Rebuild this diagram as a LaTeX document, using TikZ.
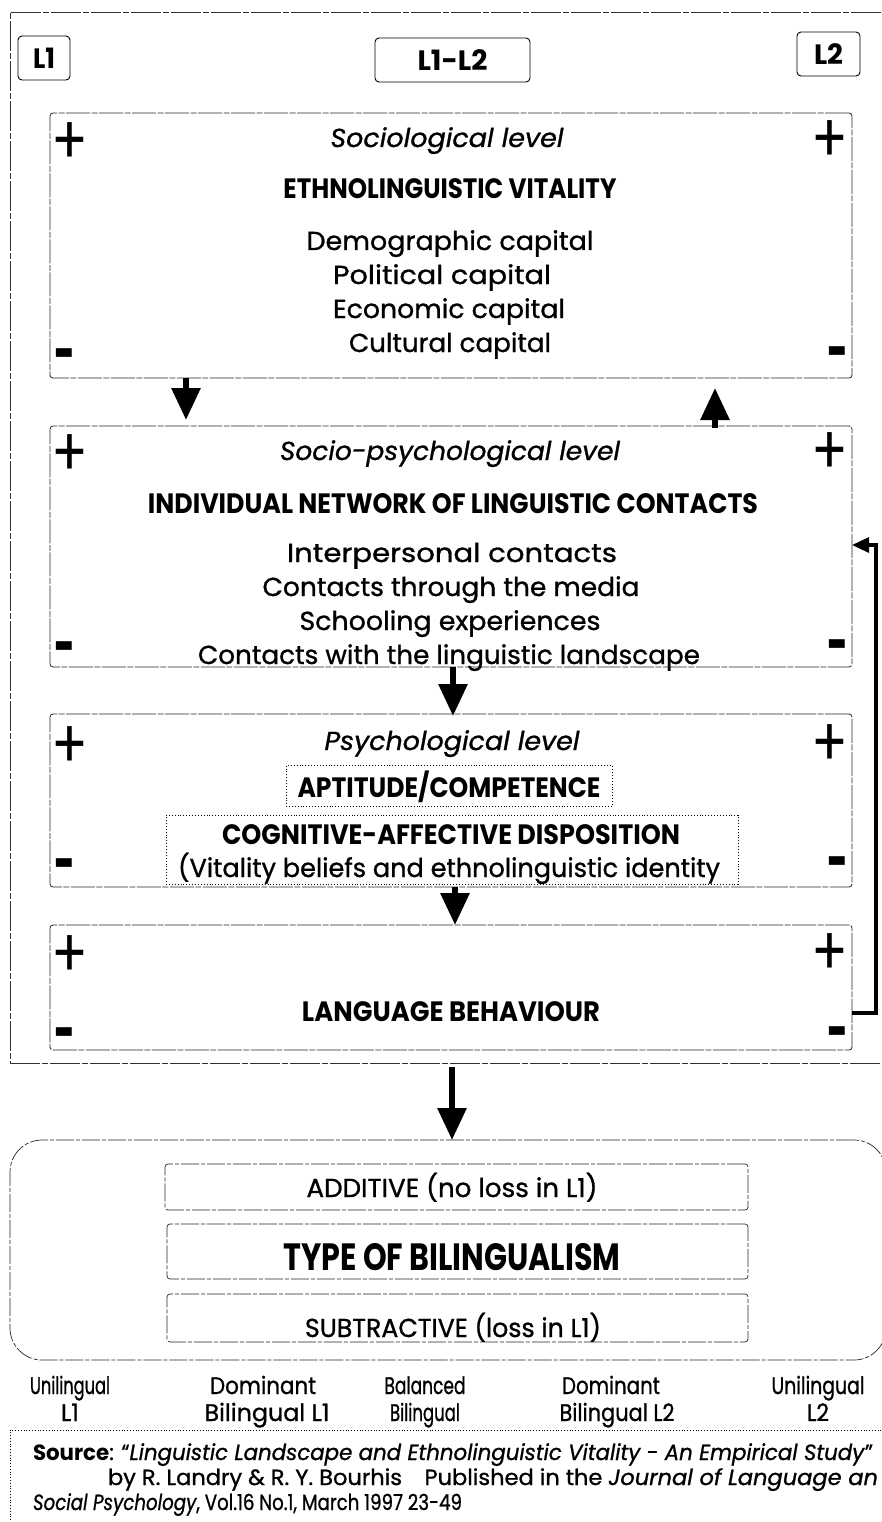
\documentclass[tikz,border=0pt]{standalone}
\usepackage{fontspec}
\setmainfont{Poppins}[UprightFeatures={FakeBold=1}, ItalicFeatures={FakeBold=1}]
\newfontfamily\plainf{Poppins}
\usepackage{graphicx}
\usetikzlibrary{arrows.meta}
\newcommand\tw[2]{\resizebox{#1pt}{\height}{#2}}
\tikzset{
  every node/.style={inner sep=0pt, outer sep=0pt},
  lvlbox/.style={draw=black!85, line width=0.8pt, dash pattern=on 24pt off 1.5pt on 6pt off 1.5pt, rounded corners=3pt, minimum width=802pt, anchor=north west},
  labbox/.style={draw, line width=0.9pt, rounded corners=4pt},
  dotbox/.style={draw, line width=0.9pt, dotted},
  bilbox/.style={draw=black!85, line width=0.7pt, dash pattern=on 18pt off 2pt on 4pt off 2pt, rounded corners=3pt},
  body/.style={font=\fontsize{26}{30}\selectfont, anchor=base},
  hd/.style={font=\fontsize{26}{30}\selectfont\itshape, anchor=base},
  caps/.style={font=\fontsize{28}{32}\selectfont\bfseries, anchor=base},
  small/.style={font=\fontsize{24}{26}\selectfont, anchor=base},
  src/.style={font=\fontsize{22}{24}\selectfont, anchor=base west},
  pl/.style={font=\plainf\fontsize{54}{54}\selectfont},
  mi/.style={font=\fontsize{36}{36}\selectfont\bfseries},
  bigarrow/.style={line width=6pt, -{Triangle[length=32pt,width=28pt]}},
  fbarrow/.style={line width=3.2pt, -{Triangle[length=17pt,width=15pt]}},
}
\newcommand\plus{\scalebox{1}[1.25]{+}}
\newcommand\minus{\scalebox{1}[1.7]{-}}
\begin{document}
\begin{tikzpicture}[x=1pt,y=-1pt]
\useasboundingbox (0,0) rectangle (882,1522);
\fill[white] (0,0) rectangle (882,1522);
\clip (0,0) rectangle (882,1522);

% outer frame
\node[draw=black!80, line width=0.7pt, dash pattern=on 30pt off 2pt on 6pt off 2pt, minimum width=890pt, minimum height=1051pt, anchor=north west] (outer) at (10,12) {};

% L labels
\node[labbox, minimum width=52pt, minimum height=44pt] (l1) at (44,58) {\fontsize{28}{30}\selectfont\bfseries\tw{22}{L1}};
\node[labbox, minimum width=155pt, minimum height=44pt] (l12) at (452.5,60) {\fontsize{28}{30}\selectfont\bfseries\tw{70}{L1-L2}};
\node[labbox, minimum width=63pt, minimum height=44pt] (l2) at (828.5,54) {\fontsize{28}{30}\selectfont\bfseries\tw{29}{L2}};

% Sociological level
\node[lvlbox, minimum height=265pt] (soc) at (50,113) {};
\node[hd] (soct) at (447,147) {\tw{233}{Sociological level}};
\node[caps] (socc) at (450,199) {\tw{333}{ETHNOLINGUISTIC VITALITY}};
\node[body] (s1) at (450,250) {\tw{287}{Demographic capital}};
\node[body] (s2) at (442,284) {\tw{218}{Political capital}};
\node[body] (s3) at (449,318) {\tw{232}{Economic capital}};
\node[body] (s4) at (450,352) {\tw{202}{Cultural capital}};
\node[pl] (socp1) at (70,144) {\plus};
\node[pl] (socp2) at (830,142) {\plus};
\node[mi] (socm1) at (65,362) {\minus};
\node[mi] (socm2) at (838,360) {\minus};

% Socio-psychological level
\node[lvlbox, minimum height=241pt] (sp) at (50,426) {};
\node[hd] (spt) at (450,460) {\tw{340}{Socio-psychological level}};
\node[caps] (spc) at (453,513) {\tw{610}{INDIVIDUAL NETWORK OF LINGUISTIC CONTACTS}};
\node[body] (p1) at (452,562) {\tw{330}{Interpersonal contacts}};
\node[body] (p2) at (451,596) {\tw{377}{Contacts through the media}};
\node[body] (p3) at (450,630) {\tw{301}{Schooling experiences}};
\node[body] (p4) at (449,664) {\tw{502}{Contacts with the linguistic landscape}};
\node[pl] (spp1) at (70,456) {\plus};
\node[pl] (spp2) at (830,454) {\plus};
\node[mi] (spm1) at (65,655) {\minus};
\node[mi] (spm2) at (838,653) {\minus};

% Psychological level
\node[lvlbox, minimum height=173pt] (psy) at (50,714) {};
\node[hd] (psyt) at (452,750) {\tw{255}{Psychological level}};
\node[dotbox, minimum width=326pt, minimum height=41pt] (apt) at (449,786) {};
\node[caps] (aptt) at (449,797) {\tw{303}{APTITUDE/COMPETENCE}};
\node[dotbox, minimum width=572pt, minimum height=69pt] (cog) at (452,849.5) {};
\node[caps] (cogt) at (451,844) {\tw{458}{COGNITIVE-AFFECTIVE DISPOSITION}};
\node[body] (cogs) at (449,877) {\tw{542}{(Vitality beliefs and ethnolinguistic identity}};
\node[pl] (psyp1) at (70,748) {\plus};
\node[pl] (psyp2) at (830,746) {\plus};
\node[mi] (psym1) at (65,872) {\minus};
\node[mi] (psym2) at (838,870) {\minus};

% Language behaviour
\node[lvlbox, minimum height=125pt] (beh) at (50,925) {};
\node[caps] (beht) at (451,1021) {\tw{298}{LANGUAGE BEHAVIOUR}};
\node[pl] (behp1) at (70,957) {\plus};
\node[pl] (behp2) at (830,955) {\plus};
\node[mi] (behm1) at (65,1041) {\minus};
\node[mi] (behm2) at (838,1040) {\minus};

% Type of bilingualism
\node[bilbox, rounded corners=32pt, minimum width=876pt, minimum height=220pt, anchor=north west] (bil) at (10,1140) {};
\node[bilbox, minimum width=583pt, minimum height=46pt] (add) at (456.5,1187) {};
\node[body] (addt) at (452,1197) {\tw{291}{ADDITIVE (no loss in L1)}};
\node[bilbox, minimum width=581pt, minimum height=55pt] (typ) at (457.5,1251.5) {};
\node[font=\fontsize{38}{40}\selectfont\bfseries, anchor=base] (typt) at (452,1270) {\tw{337}{TYPE OF BILINGUALISM}};
\node[bilbox, minimum width=581pt, minimum height=48pt] (sub) at (457.5,1318) {};
\node[body] (subt) at (453,1337) {\tw{296}{SUBTRACTIVE (loss in L1)}};

% scale labels
\node[small] (u1a) at (70,1394) {\tw{80}{Unilingual}};
\node[small] (u1b) at (70,1421) {\tw{18}{L1}};
\node[small] (d1a) at (263,1394) {\tw{106}{Dominant}};
\node[small] (d1b) at (267,1421) {\tw{125}{Bilingual L1}};
\node[small] (ba) at (425,1394) {\tw{81}{Balanced}};
\node[small] (bb) at (425,1421) {\tw{70}{Bilingual}};
\node[small] (d2a) at (611,1394) {\tw{98}{Dominant}};
\node[small] (d2b) at (617,1421) {\tw{115}{Bilingual L2}};
\node[small] (u2a) at (818,1394) {\tw{93}{Unilingual}};
\node[small] (u2b) at (818,1421) {\tw{22}{L2}};

% source
\node[draw, line width=0.8pt, dotted, minimum width=900pt, minimum height=110pt, anchor=north west] (srcbox) at (10,1430) {};
\node[src] (src1) at (33,1460) {\tw{840}{\textbf{Source}: “\textit{Linguistic Landscape and Ethnolinguistic Vitality - An Empirical Study}”}};
\node[src] (src2) at (108,1485) {\tw{770}{by R. Landry \& R. Y. Bourhis\quad Published in the \textit{Journal of Language an}}};
\node[src] (src3) at (33,1510) {\tw{429}{\textit{Social Psychology}, Vol.16 No.1, March 1997 23-49}};

% connectors
\coordinate (c1) at (186,0);
\coordinate (c2) at (715,0);
\coordinate (c3) at (453,0);
\coordinate (c4) at (455,0);
\coordinate (c5) at (452,0);
\coordinate (f1) at (0,1013);
\coordinate (f2) at (0,545);
\coordinate (fx) at (876,0);
\draw[bigarrow] (soc.south -| c1) -- ([yshift=6pt]sp.north -| c1);
\draw[bigarrow] ([yshift=-2pt]sp.north -| c2) -- ([yshift=-10pt]soc.south -| c2);
\draw[bigarrow] (sp.south -| c3) -- ([yshift=-2pt]psy.north -| c3);
\draw[bigarrow] (psy.south -| c4) -- (beh.north -| c4);
\draw[bigarrow] ([yshift=-4pt]outer.south -| c5) -- (bil.north -| c5);
\draw[fbarrow] (beh.east |- f1) -| (fx |- f2) -- (sp.east |- f2);
\end{tikzpicture}
\end{document}
